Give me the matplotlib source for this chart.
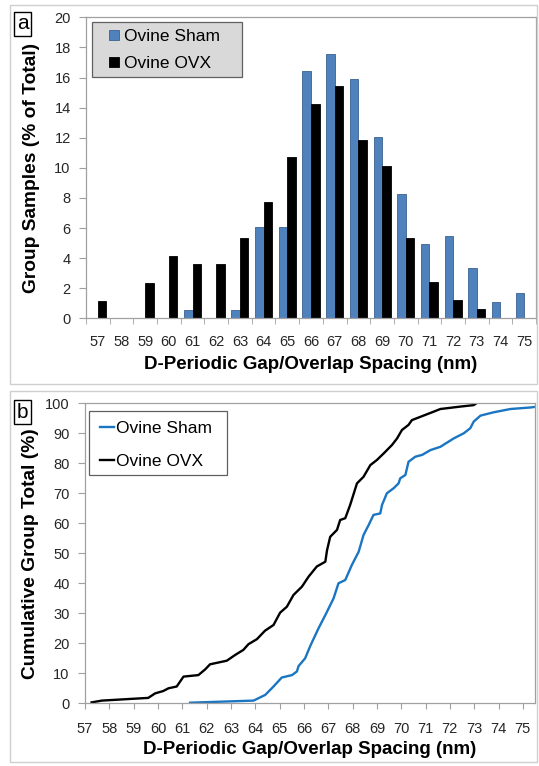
import matplotlib
matplotlib.use("Agg")
import matplotlib.pyplot as plt
from matplotlib.patches import Rectangle
from matplotlib.lines import Line2D
import numpy as np

plt.rcParams['font.family'] = ['Liberation Sans', 'DejaVu Sans']

# ---------- data ----------
categories = [57, 58, 59, 60, 61, 62, 63, 64, 65, 66, 67, 68, 69, 70, 71, 72, 73, 74, 75]
sham_pct = [0, 0, 0, 0, 0.55, 0, 0.55, 6.07, 6.07, 16.43, 17.56, 15.92, 12.05, 8.24, 4.96, 5.49, 3.32, 1.11, 1.68]
ovx_pct = [1.17, 0, 2.37, 4.14, 3.59, 3.59, 5.36, 7.71, 10.7, 14.24, 15.46, 11.87, 10.12, 5.34, 2.39, 1.2, 0.6, 0, 0]

ovx_x = [57.27, 57.69, 59.6, 59.88, 60.22, 60.43, 60.77, 61.05, 61.66, 61.94, 62.14, 62.83, 63.17,
         63.51, 63.72, 64.07, 64.4, 64.75, 65.02, 65.3, 65.57, 65.92, 66.19, 66.53, 66.88, 66.95,
         67.08, 67.36, 67.49, 67.7, 67.9, 68.18, 68.45, 68.73, 69.0, 69.28, 69.62, 69.83, 70.03,
         70.3, 70.44, 70.79, 71.33, 71.61, 72.43, 72.98, 73.09]
ovx_cum = [0.3, 0.9, 1.8, 3.3, 4.1, 5.0, 5.6, 8.9, 9.4, 11.3, 13.0, 14.2, 16.1,
           17.8, 19.7, 21.4, 24.2, 26.1, 30.2, 32.2, 36.1, 38.9, 42.2, 45.6, 47.2, 51.0,
           55.5, 57.8, 61.1, 61.7, 66.1, 73.3, 75.5, 79.4, 81.1, 83.3, 86.1, 88.3, 91.1,
           92.8, 94.4, 95.5, 97.2, 98.1, 98.9, 99.4, 100.0]

sham_x = [61.32, 63.93, 64.41, 64.75, 65.09, 65.51, 65.71, 65.78, 66.05, 66.26, 66.6, 66.88, 67.22,
          67.42, 67.7, 67.97, 68.25, 68.45, 68.66, 68.86, 69.14, 69.21, 69.41, 69.69, 69.89, 69.96,
          70.17, 70.3, 70.58, 70.86, 71.2, 71.61, 72.16, 72.57, 72.84, 72.98, 73.26, 73.8, 74.49,
          75.3, 75.5]
sham_cum = [0.2, 0.9, 2.8, 5.6, 8.6, 9.4, 10.6, 12.4, 15.0, 19.1, 25.0, 29.4, 35.0,
            40.0, 41.1, 46.1, 50.5, 56.1, 59.4, 62.8, 63.3, 66.1, 70.0, 71.7, 73.3, 75.0,
            76.1, 80.5, 82.2, 82.8, 84.4, 85.5, 88.3, 90.0, 91.7, 93.9, 95.9, 97.0, 98.1,
            98.6, 98.8]

series_names = ['Ovine Sham', 'Ovine OVX']
x_title = 'D-Periodic Gap/Overlap Spacing (nm)'

# ---------- figure ----------
W, H = 539, 766
fig = plt.figure(figsize=(W / 100, H / 100), dpi=100)
fig.patch.set_facecolor('white')

def rect(l, t, r, b):
    return [l / W, 1 - b / H, (r - l) / W, (b - t) / H]

def fpt(x, y):
    return (x / W, 1 - y / H)

spine_col = '#a0a0a0'
tick_col = '#262626'
TICK_FS = 10.5
XLAB_FS = 13.5
YLAB_FS = 13.8
LEG_FS = 12.5
SHAM_BAR = '#4f81bd'
SHAM_LINE = '#1a75c2'

# panel frames
for (l, t, r, b) in [(10, 5, 537, 384), (10, 391, 537, 762)]:
    fig.patches.append(Rectangle(fpt(l, b), (r - l) / W, (b - t) / H,
                                 transform=fig.transFigure, fill=False,
                                 edgecolor='#cfcfcf', linewidth=1.0))

def legend_box(axis, l, t, r, b, fc):
    axis.add_patch(Rectangle(fpt(l, b), (r - l) / W, (b - t) / H, transform=fig.transFigure,
                             facecolor=fc, edgecolor='#606060', linewidth=0.9,
                             zorder=4, clip_on=False))

# ---------- panel a ----------
ax = fig.add_axes(rect(86, 17.3, 536, 318.3))
pos = np.arange(len(categories))
bw = 0.36
ax.bar(pos - bw / 2, sham_pct, width=bw, color=SHAM_BAR, edgecolor='#3a6190', linewidth=0.6)
ax.bar(pos + bw / 2, ovx_pct, width=bw, color='black', edgecolor='black', linewidth=0.6)
ax.set_xlim(-0.5, len(categories) - 0.5)
ax.set_ylim(0, 20)
ax.set_yticks(np.arange(0, 21, 2))
ax.set_xticks(pos)
ax.set_xticklabels([str(c) for c in categories])
ax.set_xticks(np.arange(-0.5, len(categories), 1), minor=True)
ax.tick_params(axis='x', which='major', length=0, pad=12.2, labelsize=TICK_FS, colors=tick_col)
ax.tick_params(axis='x', which='minor', length=4, color=spine_col, direction='out')
ax.tick_params(axis='y', length=5, color=spine_col, labelsize=TICK_FS, labelcolor=tick_col, pad=6)
for s in ax.spines.values():
    s.set_color(spine_col)
    s.set_linewidth(0.9)
ax.set_xlabel(x_title, fontsize=XLAB_FS, fontweight='bold')
ax.xaxis.set_label_coords(0.5, -(355.5 - 318.3) / 301)
ax.set_ylabel('Group Samples (% of Total)', fontsize=YLAB_FS, fontweight='bold')
ax.yaxis.set_label_coords((40.5 - 86) / 450, 0.5)

legend_box(ax, 92, 22, 242, 77, '#d9d9d9')
h_a = [Line2D([], [], marker='s', ls='none', markersize=6.7, markerfacecolor=SHAM_BAR,
              markeredgecolor='#3a6190', markeredgewidth=0.6),
       Line2D([], [], marker='s', ls='none', markersize=6.7, markerfacecolor='black',
              markeredgecolor='black', markeredgewidth=0.6)]
ax.legend(h_a, series_names, loc='upper left', bbox_to_anchor=fpt(106, 29),
          bbox_transform=fig.transFigure, numpoints=1, fontsize=LEG_FS, frameon=False,
          handlelength=0.92, handletextpad=0.1, borderpad=0, labelspacing=0.7,
          borderaxespad=0)

fig.text(22.5 / W, 1 - 23.5 / H, 'a', fontsize=15, ha='center', va='center',
         bbox=dict(boxstyle='square,pad=0.12', facecolor='white', edgecolor='black', linewidth=1.0))

# ---------- panel b ----------
bx = fig.add_axes(rect(85, 403.3, 535, 703.3))
bx.plot(sham_x, sham_cum, color=SHAM_LINE, linewidth=1.7)
bx.plot(ovx_x, ovx_cum, color='black', linewidth=1.7)
bx.set_xlim(57, 75.5)
bx.set_ylim(0, 100)
bx.set_xticks(np.arange(57, 76, 1))
bx.set_yticks(np.arange(0, 101, 10))
bx.tick_params(axis='x', length=4, color=spine_col, labelsize=TICK_FS, labelcolor=tick_col, pad=9.8)
bx.tick_params(axis='y', length=5, color=spine_col, labelsize=TICK_FS, labelcolor=tick_col, pad=6)
for s in bx.spines.values():
    s.set_color(spine_col)
    s.set_linewidth(0.9)
bx.set_xlabel(x_title, fontsize=XLAB_FS, fontweight='bold')
bx.xaxis.set_label_coords(0.5, -(741.2 - 703.3) / 300)
bx.set_ylabel('Cumulative Group Total (%)', fontsize=YLAB_FS, fontweight='bold')
bx.yaxis.set_label_coords((39.0 - 85) / 450, 0.5)

legend_box(bx, 89, 411, 227, 475, 'white')
h_b = [Line2D([], [], color=SHAM_LINE, linewidth=1.7),
       Line2D([], [], color='black', linewidth=1.7)]
bx.legend(h_b, series_names, loc='upper left', bbox_to_anchor=fpt(100, 421),
          bbox_transform=fig.transFigure, fontsize=LEG_FS, frameon=False,
          handlelength=0.8, handletextpad=0.1, borderpad=0, labelspacing=1.0,
          borderaxespad=0)

fig.text(22.5 / W, 1 - 412 / H, 'b', fontsize=15, ha='center', va='center',
         bbox=dict(boxstyle='square,pad=0.12', facecolor='white', edgecolor='black', linewidth=1.0))

fig.savefig('out.png', dpi=100, facecolor='white')
